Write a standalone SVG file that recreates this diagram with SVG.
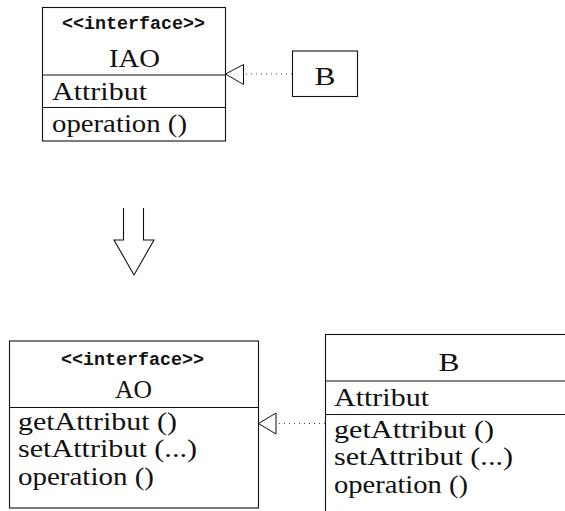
<svg xmlns="http://www.w3.org/2000/svg" width="565" height="511" viewBox="0 0 565 511">
<style>
.box{fill:#fff;stroke:#111;stroke-width:1.1}
.ln{stroke:#111;stroke-width:1.1;fill:none}
.t{font-family:'Liberation Serif','DejaVu Serif',serif;font-size:25px;fill:#111}
.m{font-family:'Liberation Mono','DejaVu Sans Mono',monospace;font-size:18px;fill:#111;font-weight:bold}
.dot{stroke:#444;stroke-width:1;stroke-dasharray:1 4;fill:none}
.tri{fill:#fff;stroke:#111;stroke-width:1}
</style>
<rect width="565" height="511" fill="#fff"/>
<g id="IAO">
<rect class="box" x="42.5" y="7.5" width="183" height="133.5"/>
<line class="ln" x1="42.5" y1="75" x2="225.5" y2="75"/>
<line class="ln" x1="42.5" y1="107.5" x2="225.5" y2="107.5"/>
<text class="m" x="133.5" y="29" text-anchor="middle" textLength="143" lengthAdjust="spacingAndGlyphs">&lt;&lt;interface&gt;&gt;</text>
<text class="t" x="134.5" y="66.5" text-anchor="middle" textLength="51" lengthAdjust="spacingAndGlyphs">IAO</text>
<text class="t" x="52" y="100" textLength="95" lengthAdjust="spacingAndGlyphs">Attribut</text>
<text class="t" x="52" y="131.5" textLength="135" lengthAdjust="spacingAndGlyphs">operation ()</text>
</g>
<g id="B-top">
<rect class="box" x="292.5" y="51" width="65" height="45.5"/>
<text class="t" x="325" y="85" text-anchor="middle" textLength="21" lengthAdjust="spacingAndGlyphs">B</text>
</g>
<g id="AO">
<rect class="box" x="9.5" y="341" width="249" height="167"/>
<line class="ln" x1="9.5" y1="407.5" x2="258.5" y2="407.5"/>
<text class="m" x="132.5" y="365" text-anchor="middle" textLength="143" lengthAdjust="spacingAndGlyphs">&lt;&lt;interface&gt;&gt;</text>
<text class="t" x="133.5" y="398" text-anchor="middle" textLength="37" lengthAdjust="spacingAndGlyphs">AO</text>
<text class="t" x="18" y="429.5" textLength="159" lengthAdjust="spacingAndGlyphs">getAttribut ()</text>
<text class="t" x="18" y="457" textLength="179" lengthAdjust="spacingAndGlyphs">setAttribut (...)</text>
<text class="t" x="18" y="484.5" textLength="136" lengthAdjust="spacingAndGlyphs">operation ()</text>
</g>
<g id="B-bottom">
<rect class="box" x="325.5" y="334.5" width="260" height="200"/>
<line class="ln" x1="325.5" y1="381" x2="565" y2="381"/>
<line class="ln" x1="325.5" y1="414.5" x2="565" y2="414.5"/>
<text class="t" x="449" y="370.5" text-anchor="middle" textLength="21" lengthAdjust="spacingAndGlyphs">B</text>
<text class="t" x="334" y="406" textLength="95" lengthAdjust="spacingAndGlyphs">Attribut</text>
<text class="t" x="334" y="437.5" textLength="160" lengthAdjust="spacingAndGlyphs">getAttribut ()</text>
<text class="t" x="334" y="465" textLength="179" lengthAdjust="spacingAndGlyphs">setAttribut (...)</text>
<text class="t" x="334" y="492.5" textLength="134" lengthAdjust="spacingAndGlyphs">operation ()</text>
</g>
<g id="connectors">
<line class="dot" x1="246" y1="74" x2="292" y2="74"/>
<polygon class="tri" points="225.5,74 243.5,64.5 243.5,84.5"/>
<line class="dot" x1="279" y1="423.5" x2="325" y2="423.5"/>
<polygon class="tri" points="258.5,423.5 276,413 276,434"/>
<polyline class="ln" points="123.5,208 123.5,240 114,240 134,275 154,240 143.5,240 143.5,208"/>
</g>
</svg>
